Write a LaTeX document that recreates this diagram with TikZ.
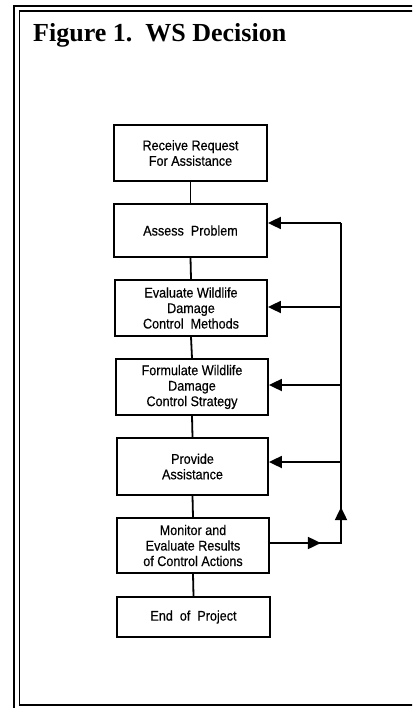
\documentclass[tikz,border=0pt]{standalone}
\usepackage{fontspec}
\setmainfont{Liberation Serif}
\newfontfamily\boxfont[FakeStretch=0.9,FakeBold=0.4]{Liberation Sans}
\usetikzlibrary{arrows.meta,decorations.markings}
\tikzset{
  stepbox/.style={draw, line width=1.8pt, inner sep=0pt, align=center,
    font=\boxfont\fontsize{14}{15.5}\selectfont},
  conn/.style={line width=1.8pt},
  fbarrow/.style={line width=1.8pt, -{Triangle[length=13pt,width=12pt]}},
}
\begin{document}
\begin{tikzpicture}[x=1pt,y=-1pt]
\useasboundingbox (0,0) rectangle (412,708);
\begin{scope}
\clip (0,0) rectangle (412,708);
\draw[line width=2.6pt] (14,720) -- (14,6) -- (420,6);
\draw[line width=1.4pt] (420,11) -- (19.5,11) -- (19.5,705);
\draw[line width=2.6pt] (18.8,705) -- (420,705);
\end{scope}

\node[anchor=base west, inner sep=0pt, font=\bfseries\fontsize{26}{30}\selectfont] (title) at (33,42) {Figure 1.\ \ WS Decision};

\node[stepbox, minimum width=153pt, minimum height=56pt] (req) at (190.5,153) {Receive Request\\For Assistance};
\node[stepbox, minimum width=153pt, minimum height=53pt] (assess) at (190.5,230.5) {Assess\ \ Problem};
\node[stepbox, minimum width=152pt, minimum height=56pt] (eval) at (191,308) {Evaluate Wildlife\\Damage\\Control\ \ Methods};
\node[stepbox, minimum width=152pt, minimum height=56pt] (form) at (192,387) {Formulate Wildlife\\Damage\\Control Strategy};
\node[stepbox, minimum width=151pt, minimum height=57pt] (prov) at (192.5,466.5) {Provide\\Assistance};
\node[stepbox, minimum width=152pt, minimum height=55pt] (mon) at (193,545.5) {Monitor and\\Evaluate Results\\of Control Actions};
\node[stepbox, minimum width=153pt, minimum height=40pt] (fin) at (193.5,617) {End\ \ of\ \ Project};

\draw[conn] (req.south) -- (assess.north);
\draw[conn] (assess.south) -- (eval.north);
\draw[conn] (eval.south) -- (form.north);
\draw[conn] (form.south) -- (prov.north);
\draw[conn] (prov.south) -- (mon.north);
\draw[conn] (mon.south) -- (fin.north);

\coordinate (fbm) at (341,543);
\coordinate (fb2) at (341,223);
\coordinate (fb3) at (341,307);
\coordinate (fb4) at (341,385);
\coordinate (fb5) at (341,462);

\draw[conn, postaction={decorate}, decoration={markings,
  mark=at position 51pt with {\arrow{Triangle[length=13pt,width=12pt]}},
  mark=at position 107pt with {\arrow{Triangle[length=13pt,width=12pt]}}}]
  (mon.east |- fbm) -- (fbm) -- (fb2);
\draw[fbarrow] (fb2) -- (assess.east |- fb2);
\draw[fbarrow] (fb3) -- (eval.east |- fb3);
\draw[fbarrow] (fb4) -- (form.east |- fb4);
\draw[fbarrow] (fb5) -- (prov.east |- fb5);
\end{tikzpicture}
\end{document}
